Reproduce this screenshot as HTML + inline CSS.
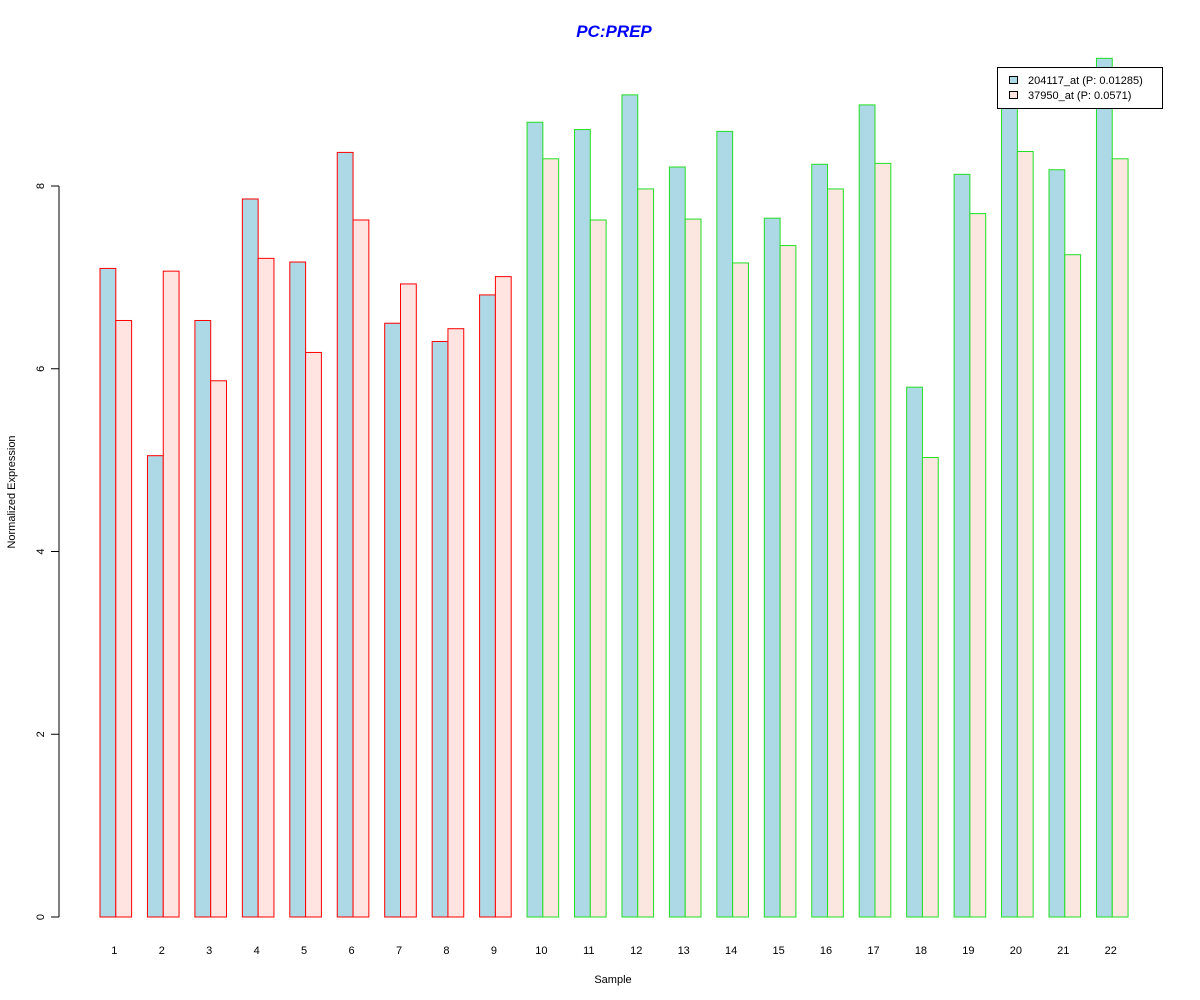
<!DOCTYPE html>
<html><head><meta charset="utf-8"><style>body{margin:0;background:#fff}svg{display:block}</style></head><body>
<svg id="s" width="1200" height="1000" xmlns="http://www.w3.org/2000/svg" font-family="Liberation Sans, sans-serif">
<rect width="1200" height="1000" fill="#fff"/>
<text x="614" y="37" text-anchor="middle" font-size="17" font-weight="bold" font-style="italic" fill="#0000FF">PC:PREP</text>
<g id="bars"></g>
<line x1="59" y1="186" x2="59" y2="917" stroke="#000"/>
<g stroke="#000">
<line x1="51" y1="917" x2="59" y2="917"/><line x1="51" y1="734.25" x2="59" y2="734.25"/><line x1="51" y1="551.5" x2="59" y2="551.5"/><line x1="51" y1="368.75" x2="59" y2="368.75"/><line x1="51" y1="186" x2="59" y2="186"/>
</g>
<g font-size="11" fill="#000" text-anchor="middle">
<text transform="translate(44,917) rotate(-90)">0</text>
<text transform="translate(44,734.25) rotate(-90)">2</text>
<text transform="translate(44,551.5) rotate(-90)">4</text>
<text transform="translate(44,368.75) rotate(-90)">6</text>
<text transform="translate(44,186) rotate(-90)">8</text>
<text transform="translate(15,492) rotate(-90)">Normalized Expression</text>
<text x="613" y="983">Sample</text>
</g>
<g id="xl" font-size="11" text-anchor="middle"></g>
<rect x="997.5" y="67.5" width="165" height="41" fill="#fff" stroke="#000"/>
<rect x="1009.5" y="76.5" width="8" height="7" fill="#ADD8E6" stroke="#000"/>
<rect x="1009.5" y="91.5" width="8" height="7" fill="#FFE4E1" stroke="#000"/>
<text x="1028" y="84" font-size="11">204117_at (P: 0.01285)</text>
<text x="1028" y="99" font-size="11">37950_at (P: 0.0571)</text>
</svg>
<script>
var b=[7.10,5.05,6.53,7.86,7.17,8.37,6.50,6.30,6.81,8.70,8.62,9.00,8.21,8.60,7.65,8.24,8.89,5.80,8.13,9.02,8.18,9.40];
var p=[6.53,7.07,5.87,7.21,6.18,7.63,6.93,6.44,7.01,8.30,7.63,7.97,7.64,7.16,7.35,7.97,8.25,5.03,7.70,8.38,7.25,8.30];
var g='',l='',y0=917,k=91.35,w=15.8;
for(var i=0;i<22;i++){var x=100+i*47.45,c=i<9?'#FF0000':'#22E022';
var pf=i<9?'#FFE4E1':'#FBE6E0';
g+='<rect x="'+x+'" y="'+(y0-b[i]*k)+'" width="'+w+'" height="'+b[i]*k+'" fill="#ADD8E6" stroke="'+c+'"/>';
g+='<rect x="'+(x+w)+'" y="'+(y0-p[i]*k)+'" width="'+w+'" height="'+p[i]*k+'" fill="'+pf+'" stroke="'+c+'"/>';
l+='<text x="'+(x+w-1.5)+'" y="954">'+(i+1)+'</text>';}
document.getElementById('bars').innerHTML=g;document.getElementById('xl').innerHTML=l;
</script>
</body></html>
